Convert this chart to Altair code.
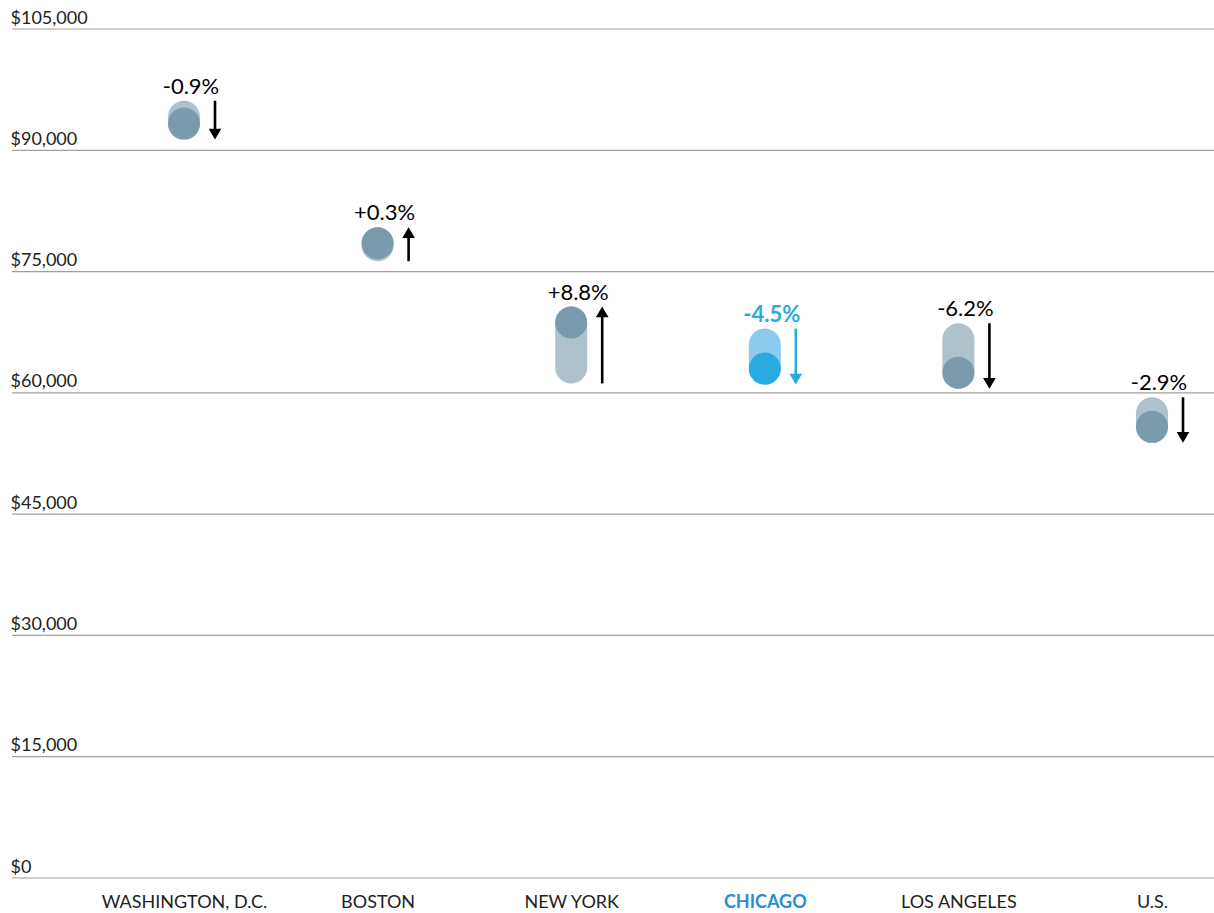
import altair as alt
import pandas as pd

# Median household income by place: latest value and year-over-year change
places = ["WASHINGTON, D.C.", "BOSTON", "NEW YORK", "CHICAGO", "LOS ANGELES", "U.S."]
income_now = [93300, 78500, 68700, 63000, 62500, 55800]
pct_change = [-0.9, 0.3, 8.8, -4.5, -6.2, -2.9]
pct_labels = ["-0.9%", "+0.3%", "+8.8%", "-4.5%", "-6.2%", "-2.9%"]
y_ticks = [0, 15000, 30000, 45000, 60000, 75000, 90000, 105000]

HIGHLIGHT = "CHICAGO"

df = pd.DataFrame({
    "place": places,
    "now": income_now,
    "pct": pct_change,
    "label": pct_labels,
})
# previous year's value implied by the stated change
df["prev"] = (df["now"] / (1 + df["pct"] / 100)).round(0)
df["top"] = df[["now", "prev"]].max(axis=1)
df["hl"] = df["place"] == HIGHLIGHT
df["dir"] = ["up" if p > 0 else "down" for p in df["pct"]]

R = 16  # pill radius in pixels
ARROW_DX = 31

x_enc = alt.X(
    "place:N",
    sort=places,
    scale=alt.Scale(type="point", range=[172, 1140], padding=0),
    axis=alt.Axis(
        title=None,
        domain=False,
        ticks=False,
        labelAngle=0,
        labelPadding=15,
        labelFontSize=18,
        labelFont="Lato",
        labelColor={"condition": {"test": f"datum.value === '{HIGHLIGHT}'", "value": "#2a8fd0"}, "value": "#222222"},
        labelFontWeight={"condition": {"test": f"datum.value === '{HIGHLIGHT}'", "value": "bold"}, "value": "normal"},
        grid=False,
    ),
)
y_scale = alt.Scale(domain=[0, 105000], nice=False, zero=True)

light = alt.condition("datum.hl", alt.value("#8ecaee"), alt.value("#afc2cc"))
dark = alt.condition("datum.hl", alt.value("#29abe2"), alt.value("#7a9bac"))
ink = alt.condition("datum.hl", alt.value("#29abe2"), alt.value("#000000"))

base = alt.Chart(df)

grid = alt.Chart(pd.DataFrame({"v": y_ticks})).mark_rule(color="#a0a0a0", strokeWidth=1.2).encode(
    y=alt.Y(
        "v:Q",
        scale=y_scale,
        axis=alt.Axis(
            title=None,
            values=y_ticks,
            format="$,d",
            domain=False,
            ticks=False,
            tickSize=0,
            grid=False,
            labelAlign="left",
            labelBaseline="alphabetic",
            labelPadding=2,
            labelOffset=-6,
            labelFontSize=18,
            labelFont="Lato",
            labelColor="#222222",
        ),
    ),
)

pill = base.mark_rule(strokeWidth=2 * R, strokeCap="round").encode(
    x=x_enc,
    y=alt.Y("prev:Q", scale=y_scale),
    y2="now:Q",
    color=light,
)

# circle symbol diameter equals sqrt(size)
dot = base.mark_circle(size=(2 * R) ** 2, opacity=1).encode(
    x=x_enc,
    y=alt.Y("now:Q", scale=y_scale),
    color=dark,
)

down = base.transform_filter("datum.dir === 'down'")
up = base.transform_filter("datum.dir === 'up'")

shaft_down = down.mark_rule(strokeWidth=2.6, xOffset=ARROW_DX, yOffset=-R, y2Offset=R - 4).encode(
    x=x_enc, y=alt.Y("prev:Q", scale=y_scale), y2="now:Q", color=ink
)
shaft_up = up.mark_rule(strokeWidth=2.6, xOffset=ARROW_DX, yOffset=R, y2Offset=-R + 4).encode(
    x=x_enc, y=alt.Y("prev:Q", scale=y_scale), y2="now:Q", color=ink
)
head_down = down.mark_point(
    shape="M-1,-1.7 L1,-1.7 L0,0 Z", size=160, filled=True, opacity=1, xOffset=ARROW_DX, yOffset=R, strokeWidth=0
).encode(x=x_enc, y=alt.Y("now:Q", scale=y_scale), color=ink)
head_up = up.mark_point(
    shape="M-1,1.7 L1,1.7 L0,0 Z", size=160, filled=True, opacity=1, xOffset=ARROW_DX, yOffset=-R, strokeWidth=0
).encode(x=x_enc, y=alt.Y("now:Q", scale=y_scale), color=ink)

label_props = dict(font="Lato", fontSize=22, baseline="bottom", align="center", dx=7, dy=-R - 2)
label_enc = dict(x=x_enc, y=alt.Y("top:Q", scale=y_scale), text="label:N", color=ink)
labels = base.transform_filter("!datum.hl").mark_text(**label_props).encode(**label_enc)
labels_hl = base.transform_filter("datum.hl").mark_text(fontWeight="bold", **label_props).encode(**label_enc)

chart = (
    alt.layer(grid, pill, dot, shaft_down, shaft_up, head_down, head_up, labels, labels_hl)
    .properties(
        width=1202,
        height=849,
        autosize=alt.AutoSizeParams(type="none"),
        padding={"left": 12, "top": 29, "right": 0, "bottom": 35},
        background="#ffffff",
    )
    .configure_view(stroke=None)
)

chart.save("out.html", embed_options={"renderer": "svg", "actions": False})
